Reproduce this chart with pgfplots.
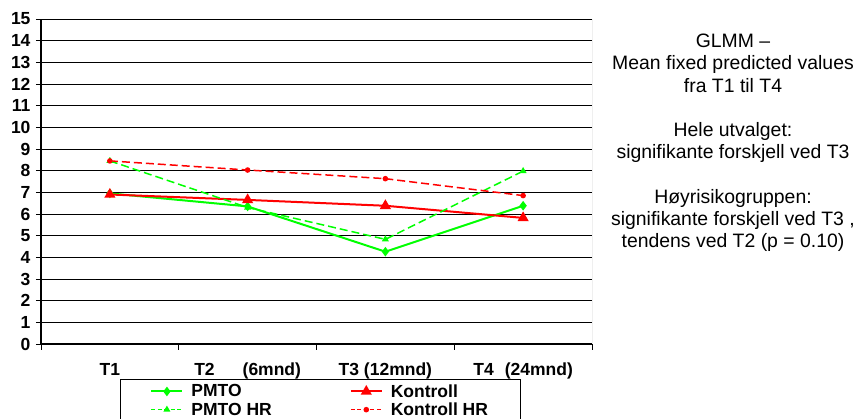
\documentclass[border=0pt]{standalone}
\usepackage{fontspec}
\setmainfont{Liberation Sans}
\usepackage{pgfplots}
\pgfplotsset{compat=1.18}
\definecolor{lime}{RGB}{0,255,0}
\definecolor{rred}{RGB}{255,0,0}
\newcommand\lab{\bfseries\fontsize{17.5}{19}\selectfont}
\begin{document}
\begin{tikzpicture}
\begin{axis}[
  name=ax,
  scale only axis,
  width=551pt, height=325pt,
  xmin=0, xmax=4, ymin=0, ymax=15,
  axis lines*=left,
  x axis line style={-, black, line width=1.2pt},
  y axis line style={-, black, line width=1.2pt},
  tick align=outside,
  ytick={0,1,...,15},
  major y tick style={black, line width=0.8pt},
  major tick length=5pt,
  xtick={0.5,1.5,2.5,3.5},
  xticklabels={T1, T2\hspace{28pt}(6mnd), T3 (12mnd), T4\hspace{11pt}(24mnd)},
  major x tick style={draw=none},
  minor xtick={0,1,2,3,4},
  minor x tick style={black, line width=0.8pt},
  minor tick length=6pt,
  ymajorgrids,
  major grid style={black, line width=0.8pt},
  /pgf/number format/assume math mode=true,
  ticklabel style={font=\lab},
  yticklabel style={xshift=-2pt},
  xticklabel style={yshift=-10pt, text height=13pt, text depth=4pt},
  legend columns=2,
  legend cell align=left,
  legend image code/.code={\draw[mark repeat=2,mark phase=2] plot coordinates {(0pt,0pt) (15.5pt,0pt) (31pt,0pt)};},
  legend style={at={(0.1434,-0.1077)}, anchor=north west, draw=black, line width=0.8pt,
    font=\lab, inner xsep=30pt, inner ysep=3pt, row sep=0pt,
    /tikz/every odd column/.append style={column sep=6pt},
    /tikz/every even column/.append style={column sep=76pt}},
]
\addplot[lime, line width=2pt, mark=diamond*, mark size=3.2pt, mark options={solid}]
  coordinates {(0.5,6.95) (1.5,6.35) (2.5,4.26) (3.5,6.38)};
\addlegendentry{PMTO}
\addplot[rred, line width=2pt, mark=triangle*, mark size=4.5pt, mark options={solid}]
  coordinates {(0.5,6.9) (1.5,6.65) (2.5,6.38) (3.5,5.82)};
\addlegendentry{Kontroll}
\addplot[lime, line width=1.5pt, dash pattern=on 8pt off 4pt, mark=triangle*, mark size=2.6pt, mark options={solid},
  legend image post style={dash pattern=on 4pt off 2.5pt}]
  coordinates {(0.5,8.45) (1.5,6.3) (2.5,4.83) (3.5,7.98)};
\addlegendentry{PMTO HR}
\addplot[rred, line width=1.5pt, dash pattern=on 8pt off 4pt, mark=*, mark size=2pt, mark options={solid},
  legend image post style={dash pattern=on 4pt off 2.5pt}]
  coordinates {(0.5,8.45) (1.5,8.03) (2.5,7.63) (3.5,6.85)};
\addlegendentry{Kontroll HR}
\draw[gray, line width=0.8pt] (rel axis cs:1,0) -- (rel axis cs:1,1);
\end{axis}
\node[anchor=north, inner sep=0pt, align=center, font=\fontsize{19.4}{22.2}\selectfont]
  at ([xshift=141pt, yshift=-15pt]ax.north east)
  {GLMM –\\ Mean fixed predicted values\\ fra T1 til T4\\[22.2pt]
   Hele utvalget:\\ signifikante forskjell ved T3\\[22.2pt]
   Høyrisikogruppen:\\ signifikante forskjell ved T3 ,\\ tendens ved T2 (p = 0.10)};
\pgfresetboundingbox
\useasboundingbox ([xshift=-41pt, yshift=-75pt]ax.south west) rectangle ([xshift=268pt, yshift=19pt]ax.north east);
\end{tikzpicture}
\end{document}
